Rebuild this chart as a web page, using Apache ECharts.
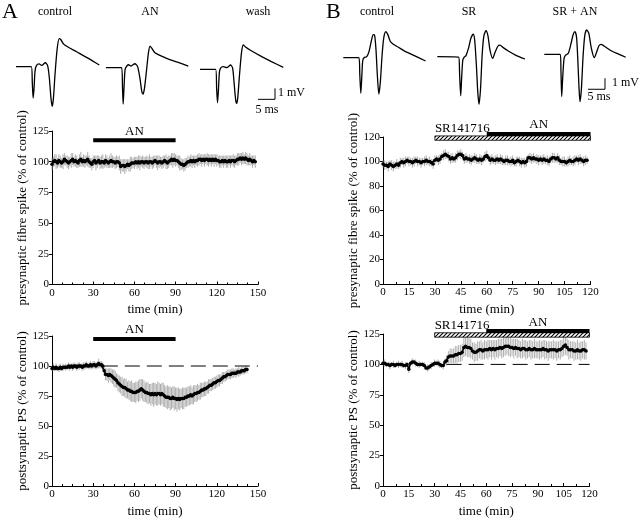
<!DOCTYPE html>
<html><head><meta charset="utf-8">
<script src="https://cdn.jsdelivr.net/npm/echarts/dist/echarts.min.js"></script>
<style>html,body{margin:0;padding:0;background:#fff}#c{width:640px;height:519px}</style>
</head><body><div id="c"></div>
<script>
const FONT = '"Liberation Serif","DejaVu Serif",serif';

// ---------- time course data (1 sample per minute, starting at 0 min) ----------
const preA = [
98,100,101,100,99,101,100,99,100,102,
101,100,99,100,101,102,100,101,100,99,
101,102,100,101,100,101,102,100,99,98,
100,101,99,100,101,99,100,100,99,101,
100,99,100,101,100,100,99,100,100,99,
96,97,97,96,97,98,97,98,99,99,
99,100,99,100,99,100,100,99,100,100,
99,100,100,99,100,101,100,99,100,100,
99,100,101,100,99,100,101,102,101,102,
101,101,100,99,98,98,97,98,99,100,
100,101,100,101,100,101,101,102,102,101,
102,101,102,102,101,102,101,102,101,102,
101,101,100,100,101,100,101,100,100,101,
100,101,101,100,101,102,102,103,102,103,
102,103,102,101,102,101,100,101,100];
const preAerr = [
5,4,5,6,4,5,5,4,6,5, 4,5,5,4,6,5,4,5,5,4, 5,6,4,5,5,4,6,5,4,5,
5,4,6,5,4,5,5,6,4,5, 5,4,5,6,5,4,5,5,4,6, 6,5,5,6,5,4,5,6,5,4,
5,4,5,5,6,4,5,5,4,5, 5,6,4,5,5,4,5,6,5,4, 5,5,4,6,5,5,4,5,6,5,
5,4,5,6,5,4,5,5,4,5, 4,5,5,4,5,4,5,5,4,5, 4,5,4,5,5,4,5,4,5,4,
5,4,5,5,4,5,4,5,5,4, 5,4,5,5,4,5,5,4,5,5, 4,5,5,4,5,4,5,4,5];

const postA = [
98,99,98,99,98,98,99,98,99,99,
99,99,100,99,100,99,100,100,99,100,
100,100,99,100,100,101,100,100,101,100,
101,101,100,101,102,101,101,100,96,93,
93,92,93,92,91,90,89,88,86,85,
84,83,82,82,81,80,80,79,79,78,
78,78,79,79,80,81,80,79,78,78,
77,77,76,77,76,77,76,77,77,76,
77,76,75,74,74,74,73,73,74,73,
73,72,73,72,73,73,73,74,74,75,
75,76,75,76,77,77,78,78,79,80,
80,81,81,82,83,84,84,85,86,86,
87,88,88,89,90,91,91,92,93,93,
93,94,94,94,94,95,95,95,96,96,
96,97,97];
const postAerr = [
2,3,2,3,2,3,3,2,3,2, 3,2,3,3,2,3,3,2,3,3, 3,2,3,3,3,3,2,3,3,3,
3,3,3,3,4,3,3,3,4,5, 5,6,5,6,6,7,7,6,7,7, 7,8,7,8,8,7,8,8,9,8,
8,9,8,9,9,8,9,9,8,9, 9,8,9,9,10,9,9,10,9,9, 9,10,9,9,10,9,10,9,9,10,
9,10,9,9,8,9,9,8,8,8, 8,8,7,8,7,7,7,6,7,6, 6,6,6,5,6,5,5,5,5,5,
5,5,5,4,5,4,4,4,4,4, 4,4,4,3,4,3,4,3,3,3, 3,3,3];

const preB = [
98,97,97,96,98,97,96,97,98,97,
99,100,99,100,101,100,100,99,100,101,
100,100,99,100,100,101,100,100,99,98,
101,102,101,102,104,105,106,105,104,102,
103,102,103,105,106,106,105,102,103,102,
102,101,102,103,102,101,102,101,102,104,
105,103,101,102,101,101,102,101,102,101,
100,101,101,100,100,101,99,100,101,100,
99,100,99,100,103,103,102,103,102,102,
101,102,101,102,101,101,100,102,103,103,
102,103,101,100,100,100,99,100,101,100,
100,101,102,101,102,101,100,101,101];
const preBerr = [
3,4,3,4,3,4,4,3,4,3, 4,3,4,4,3,4,3,4,4,3, 4,3,4,3,4,4,3,4,3,4,
4,3,4,4,3,4,4,3,4,4, 4,3,4,4,3,4,3,4,4,3, 4,4,3,4,4,3,4,4,3,4,
4,3,4,4,3,4,4,3,4,4, 3,4,4,3,4,4,3,4,3,4, 4,3,4,4,3,4,4,4,3,4,
4,3,4,4,3,4,4,3,4,4, 3,4,4,3,4,4,3,4,4,3, 4,4,3,4,4,3,4,4,3];

const postB = [
101,101,100,100,99,100,100,99,100,100,
100,100,99,99,100,96,101,102,102,101,
100,100,100,100,99,97,97,98,99,100,
101,101,101,100,99,99,102,103,106,107,
107,107,108,108,109,109,110,114,115,114,
114,113,111,110,110,111,112,112,111,112,
112,112,113,112,113,112,113,113,114,113,
114,115,115,115,114,114,113,114,113,113,
112,113,113,112,112,113,112,112,113,112,
112,112,112,113,112,112,111,112,112,112,
112,111,112,112,113,115,116,114,112,112,
112,111,111,112,111,111,112,112,111];
const postBerr = [
2,3,2,2,3,2,3,2,2,3, 2,3,2,3,2,3,2,3,2,3, 2,3,2,2,3,2,3,2,3,2,
3,2,3,3,2,3,3,4,5,6, 6,6,7,7,7,7,7,8,8,8, 8,8,7,8,7,8,7,8,7,8,
7,8,7,8,7,8,7,8,7,8, 8,8,7,8,8,7,8,7,8,7, 7,8,7,8,7,7,8,7,8,7,
7,8,7,7,8,7,8,7,7,8, 7,8,7,8,7,8,8,7,8,7, 7,8,7,8,7,8,7,8,7];

// reference (control) level lines: [start min, end min, value]
const refA = [[37,100],[150,100]];
const refB = [[37,100],[120,100]];

// drug application periods
const drugA = [{label:'AN', start:30, end:90}];
const drugB = [{label:'SR141716', start:30, end:120, hatched:true}, {label:'AN', start:60, end:120}];

// ---------- example field potential traces (ms, mV) ----------
const trCtrlA = [[0,0],[4.5,0],[4.8,-1.5],[5.05,-2.85],[5.3,-2.0],[5.6,-0.4],[6.0,0.1],[6.8,0.25],[7.6,0.12],[8.6,0.36],[9.3,0.1],[9.8,-1.0],[10.3,-2.9],[10.65,-3.6],[11.0,-2.9],[11.5,-0.6],[12.1,1.6],[12.7,2.55],[13.2,2.45],[14.0,2.05],[15.5,1.75],[17.8,1.36],[21.3,0.76],[24.5,0.15]];
const trAN_A = [[0,0],[4.6,0],[4.85,-1.8],[5.05,-3.3],[5.3,-1.8],[5.6,-0.2],[6.0,0.1],[6.6,0.27],[7.35,0.15],[8.5,0.36],[9.3,0.1],[10.0,-1.0],[10.5,-2.1],[10.9,-2.4],[11.3,-1.9],[11.9,-0.3],[12.5,1.4],[12.95,1.97],[13.5,1.75],[14.4,1.35],[16,1.1],[17.85,0.85],[21,0.5],[24.2,0.15]];
const trWashA = [[0,0],[4.6,0],[4.9,-1.8],[5.15,-3.04],[5.4,-2.0],[5.7,-0.3],[6.0,0.09],[6.85,0.24],[7.85,0.15],[9.0,0.39],[9.6,0.1],[10.1,-1.5],[10.5,-2.8],[10.8,-3.1],[11.1,-2.6],[11.6,-0.6],[12.2,1.5],[12.74,2.21],[13.3,2.05],[14.7,1.75],[18.15,1.15],[21,0.7],[24.5,0.18]];
const trCtrlB = [[0,0],[4.6,0],[4.85,-1.5],[5.15,-3.24],[5.4,-2.0],[5.7,-0.3],[6.1,0.0],[6.9,0.1],[7.6,0.6],[8.3,1.6],[8.8,2.1],[9.2,2.05],[9.6,0.8],[10.0,-1.5],[10.45,-3.3],[10.9,-2.2],[11.4,0.2],[11.9,1.8],[12.5,2.36],[13.1,2.1],[13.8,1.5],[14.7,1.22],[16.2,0.95],[18,0.6],[20.1,0.31],[24.2,-0.3]];
const trSR_B = [[0,0],[6.3,-0.05],[6.55,-1.5],[6.88,-3.55],[7.15,-2.0],[7.5,-0.3],[7.9,-0.05],[8.44,0.1],[9.2,0.8],[9.9,1.7],[10.6,2.06],[11.0,1.5],[11.5,-0.8],[11.9,-3.2],[12.26,-4.33],[12.7,-3.0],[13.2,0.2],[13.7,1.9],[14.32,2.36],[14.9,1.9],[15.5,0.6],[16.29,-0.15],[17.0,0.4],[17.8,0.95],[18.44,1.06],[19.3,0.85],[20.88,0.52],[23,0.15],[25.8,-0.21]];
const trSRAN_B = [[0,0],[4.7,0],[4.9,-1.5],[5.12,-3.83],[5.4,-2.2],[5.8,-0.4],[6.2,-0.1],[7.06,0.09],[7.8,0.9],[8.5,1.8],[9.03,2.06],[9.5,1.5],[9.9,-0.8],[10.2,-3.0],[10.5,-4.31],[10.9,-3.2],[11.4,-0.2],[11.9,1.7],[12.47,2.22],[13.1,1.9],[13.8,0.6],[14.7,-0.31],[15.5,0.3],[16.1,0.8],[16.68,0.91],[17.6,0.75],[19.82,0.3],[22,0.0],[23.94,-0.27]];
const scaleBar = {ms:5, mV:1};

// ---------- build ----------
const chart = echarts.init(document.getElementById('c'), null, {renderer:'canvas'});

const hatch = document.createElement('canvas');
hatch.width = 4; hatch.height = 4;
(function(){const g=hatch.getContext('2d');g.fillStyle='#fff';g.fillRect(0,0,4,4);g.strokeStyle='#000';g.lineWidth=1.1;
g.beginPath();g.moveTo(-1,5);g.lineTo(5,-1);g.moveTo(-1,1);g.lineTo(1,-1);g.moveTo(3,5);g.lineTo(5,3);g.stroke();})();

const grids = [], xAxes = [], yAxes = [], series = [];

function plotAxes(g, xmax, xint, xminor, ymax, yint, yname) {
  grids.push(g);
  const gi = grids.length - 1;
  xAxes.push({type:'value', gridIndex:gi, min:0, max:xmax, interval:xint,
    name:'time (min)', nameLocation:'middle', nameGap:19,
    nameTextStyle:{fontFamily:FONT, fontSize:13, color:'#000'},
    axisLine:{lineStyle:{color:'#000', width:1}},
    axisTick:{inside:true, length:3, lineStyle:{color:'#000'}},
    minorTick:{show:true, splitNumber:xminor, length:2, lineStyle:{color:'#000'}},
    axisLabel:{fontFamily:FONT, fontSize:11, color:'#000', margin:3},
    splitLine:{show:false}});
  yAxes.push({type:'value', gridIndex:gi, min:0, max:ymax, interval:yint,
    name:yname, nameLocation:'middle', nameGap:17,
    nameTextStyle:{fontFamily:FONT, fontSize:13, color:'#000'},
    axisLine:{show:true, lineStyle:{color:'#000', width:1}},
    axisTick:{show:true, inside:false, length:3, lineStyle:{color:'#000'}},
    axisLabel:{fontFamily:FONT, fontSize:11, color:'#000', margin:3},
    splitLine:{show:false}});
  return gi;
}

function timeCourse(gi, vals, errs) {
  const pts = vals.map((v,i)=>[i, v]);
  const eb = vals.map((v,i)=>[i, v - errs[i], v + errs[i]]);
  series.push({type:'custom', xAxisIndex:gi, yAxisIndex:gi, silent:true, z:1,
    data:eb, renderItem:function(p, api){
      const a = api.coord([api.value(0), api.value(1)]);
      const b = api.coord([api.value(0), api.value(2)]);
      return {type:'line', shape:{x1:a[0], y1:a[1], x2:b[0], y2:b[1]}, style:{stroke:'#999', lineWidth:0.8}};
    }});
  series.push({type:'line', xAxisIndex:gi, yAxisIndex:gi, data:pts, silent:true, z:3,
    symbol:'circle', symbolSize:3.5, showSymbol:true, itemStyle:{color:'#000'},
    lineStyle:{color:'#000', width:1.6}, animation:false});
}

function refLine(gi, d) {
  series.push({type:'line', xAxisIndex:gi, yAxisIndex:gi, data:d, silent:true, symbol:'none', z:2,
    lineStyle:{color:'#000', width:1, type:[15,7]}});
}

// drug bars: level (value on y axis) & thickness are layout
function drugBars(gi, bars, levels, labelAlign) {
  series.push({type:'custom', xAxisIndex:gi, yAxisIndex:gi, silent:true, clip:false, z:5,
    data:bars.map(b=>[b.start, b.end]),
    renderItem:function(p, api){
      const b = bars[p.dataIndex];
      const lv = levels[p.dataIndex];
      const p0 = api.coord([api.value(0), lv]);
      const p1 = api.coord([api.value(1), lv]);
      const h = b.hatched ? 4.4 : 4;
      const children = [{type:'rect', shape:{x:p0[0], y:p0[1]-h/2, width:p1[0]-p0[0], height:h},
        style: b.hatched ? {fill:{image:hatch, repeat:'repeat'}, stroke:'#000', lineWidth:0.8} : {fill:'#000'}}];
      const al = labelAlign[p.dataIndex];
      const tx = al === 'left' ? p0[0] : (p0[0]+p1[0])/2;
      children.push({type:'text', style:{text:b.label, x:tx, y:p0[1]-h/2-0.5,
        font:'13px '+FONT, fill:'#000', align:al, verticalAlign:'bottom', textAlign:al, textVerticalAlign:'bottom'}});
      return {type:'group', children:children};
    }});
}

// plot panels
const gA1 = plotAxes({left:52, top:131, width:206, height:153.5}, 150, 30, 4, 125, 25, 'presynaptic fibre spike (% of control)');
timeCourse(gA1, preA, preAerr);
drugBars(gA1, drugA, [117.4], ['center']);

const gB1 = plotAxes({left:383, top:137, width:207.5, height:147}, 120, 15, 2, 120, 20, 'presynaptic fibre spike (% of control)');
timeCourse(gB1, preB, preBerr);
drugBars(gB1, drugB, [119.1, 122.4], ['left','center']);

const gA2 = plotAxes({left:52, top:336, width:206, height:154}, 150, 30, 4, 125, 25, 'postsynaptic PS (% of control)');
refLine(gA2, refA);
timeCourse(gA2, postA, postAerr);
drugBars(gA2, drugA, [122.6], ['center']);

const gB2 = plotAxes({left:383, top:334, width:206.5, height:154}, 120, 15, 2, 125, 25, 'postsynaptic PS (% of control)');
refLine(gB2, refB);
timeCourse(gB2, postB, postBerr);
drugBars(gB2, drugB, [124.2, 127.4], ['left','center']);

// trace panels: 3.4 px per ms, 11 px per mV
const PXMS = 3.4, PXMV = 11, MSMAX = 27, MVMIN = -4.5, MVMAX = 3;
function tracePanel(x0, y0, data, bar) {
  grids.push({left:x0, top:y0 - MVMAX*PXMV, width:MSMAX*PXMS, height:(MVMAX-MVMIN)*PXMV});
  const gi = grids.length - 1;
  xAxes.push({type:'value', gridIndex:gi, min:0, max:MSMAX, show:false});
  yAxes.push({type:'value', gridIndex:gi, min:MVMIN, max:MVMAX, show:false});
  series.push({type:'line', xAxisIndex:gi, yAxisIndex:gi, data:data, symbol:'none', silent:true,
    smooth:0.25, lineStyle:{color:'#000', width:1.3}});
  if (bar) {
    const c = bar; // corner [ms, mV]
    series.push({type:'line', xAxisIndex:gi, yAxisIndex:gi, symbol:'none', silent:true,
      data:[[c[0]-scaleBar.ms, c[1]], [c[0], c[1]], [c[0], c[1]+scaleBar.mV]],
      lineStyle:{color:'#000', width:1}});
  }
}
tracePanel(16, 66.7, trCtrlA);
tracePanel(106, 67.7, trAN_A);
tracePanel(200, 69.3, trWashA, [22.06, -2.73]);
tracePanel(343.3, 57.7, trCtrlB);
tracePanel(437.3, 56.7, trSR_B);
tracePanel(544.3, 54.3, trSRAN_B, [17.85, -3.18]);

function txt(t, x, y, size, align) {
  return {type:'text', silent:true, style:{text:t, x:x, y:y, font:size+'px '+FONT, fill:'#000',
    align:align||'center', verticalAlign:'middle', textAlign:align||'center', textVerticalAlign:'middle'}};
}
const graphic = [
  txt('A', 2, 12, 22, 'left'), txt('B', 326, 12, 22, 'left'),
  txt('control', 55, 12, 12), txt('AN', 150, 12, 12), txt('wash', 258, 12, 12),
  txt('control', 377, 12, 12), txt('SR', 469, 12, 12), txt('SR + AN', 575, 12, 12),
  txt('1 mV', 278, 93, 12, 'left'), txt('5 ms', 267, 110, 12),
  txt('1 mV', 612, 83, 12, 'left'), txt('5 ms', 599, 97, 12)
];

chart.setOption({
  animation:false,
  backgroundColor:'#fff',
  grid:grids, xAxis:xAxes, yAxis:yAxes, series:series, graphic:graphic
});
</script></body></html>
